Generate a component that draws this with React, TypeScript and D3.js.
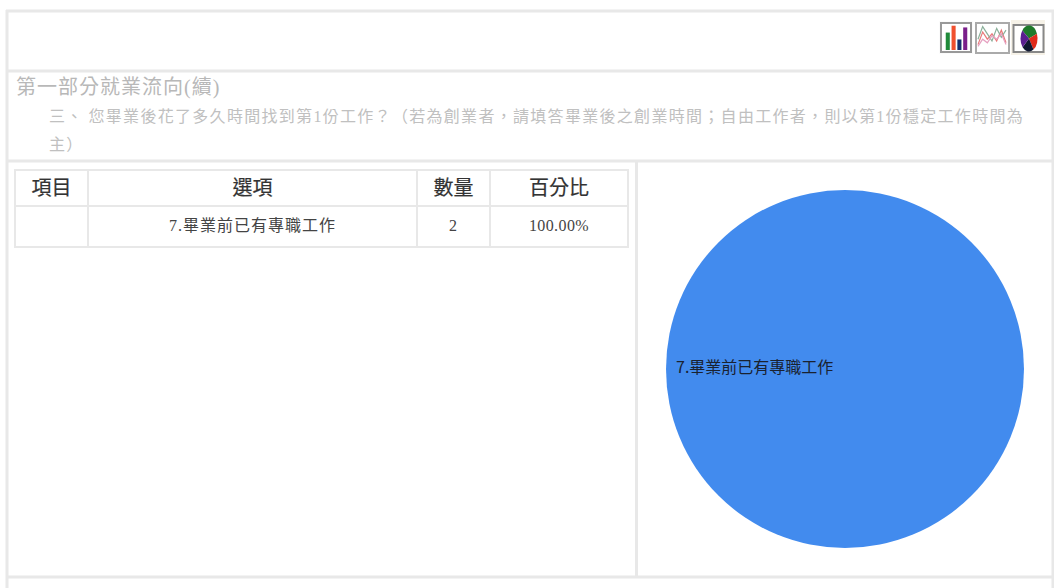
import React, { useEffect } from "react";
import * as d3 from "d3";

const sectionTitle = "第一部分就業流向(續)";
const questionLine1 = "三、 您畢業後花了多久時間找到第1份工作？（若為創業者，請填答畢業後之創業時間；自由工作者，則以第1份穩定工作時間為";
const questionLine2 = "主）";
const columns = ["項目", "選項", "數量", "百分比"];
const columnEdges = [15, 88, 417, 490, 628];
const rowValues = ["", "7.畢業前已有專職工作", "2", "100.00%"];
const pieLabels = ["7.畢業前已有專職工作"];
const pieValues = [2];
const iconBars = [9, 13, 5, 12];
const iconBarColors = ["#1f8a3a", "#f0502f", "#16306e", "#7a1f8a"];
const iconLineA = [3, 10, 6, 9, 5, 11, 4];
const iconLineB = [6, 13, 9, 5, 12, 7, 11];
const iconLineC = [2, 6, 4, 8, 6, 9, 3];
const iconPieValues = [3, 2, 2, 2];
const iconPieColors = ["#1f7a2a", "#e02a1a", "#101830", "#5a1f8f"];

const GRAY = "#e8e8e8";
const SERIF = "'Liberation Serif',serif";
const FONT = "'Liberation Serif','Noto Sans CJK TC',serif";
const CJK = "'Noto Sans CJK TC','Liberation Serif',sans-serif";

function Mixed({ text }: { text: string }) {
  return (
    <>
      {text.split(/(\d+)/).map((part, i) =>
        /^\d+$/.test(part) ? <tspan key={i} fontFamily={SERIF}>{part}</tspan> : <tspan key={i}>{part}</tspan>
      )}
    </>
  );
}

export default function App() {
  useEffect(() => {
    document.body.style.margin = "0";
    document.body.style.background = "#fff";
  }, []);
  const pie = d3.pie<number>().sort(null)(pieValues);
  const arc = d3.arc<d3.PieArcDatum<number>>().innerRadius(0).outerRadius(179);
  const iconPie = d3.pie<number>().sort(null).startAngle(-0.9).endAngle(-0.9 + 2 * Math.PI)(iconPieValues);
  const iconArc = d3.arc<d3.PieArcDatum<number>>().innerRadius(0).outerRadius(9);
  const ix = d3.scaleLinear().domain([0, 6]).range([3, 31]);
  const iy = d3.scaleLinear().domain([0, 15]).range([29, 2]);
  const line = d3.line<number>().x((_, i) => ix(i)).y((d) => iy(d));
  const bx = d3.scaleBand<number>().domain(iconBars.map((_, i) => i)).range([4, 29]).padding(0.3);
  const by = d3.scaleLinear().domain([0, 14]).range([27, 3]);
  const hLines = [11, 71, 161, 577];
  return (
    <svg width={1054} height={588} style={{ display: "block" }} lang="zh-TW">
      <rect width={1054} height={588} fill="#fff" />
      {hLines.map((y) => (
        <line key={y} x1={6} x2={1054} y1={y} y2={y} stroke={GRAY} strokeWidth={3} />
      ))}
      <line x1={7} x2={7} y1={10} y2={588} stroke={GRAY} strokeWidth={3} />
      <line x1={1053} x2={1053} y1={10} y2={588} stroke={GRAY} strokeWidth={3} />
      <line x1={636.5} x2={636.5} y1={161} y2={577} stroke={GRAY} strokeWidth={3} />

      <g transform="translate(939,21)">
        <rect x={0} y={0} width={34} height={33} fill="#fbfbfb" />
        <rect x={2} y={2} width={30} height={29} fill="#fff" stroke="#999" strokeWidth={2} />
        {iconBars.map((v, i) => (
          <rect key={i} x={bx(i) + 1} y={by(v)} width={bx.bandwidth()} height={29 - by(v)} fill={iconBarColors[i]} />
        ))}
      </g>
      <g transform="translate(975,21)">
        <rect x={1} y={2} width={33} height={30} fill="#fff" stroke="#aaa" strokeWidth={2} />
        <path d={line(iconLineA) ?? ""} fill="none" stroke="#e87a7a" strokeWidth={1.2} />
        <path d={line(iconLineB) ?? ""} fill="none" stroke="#8bb09a" strokeWidth={1.2} />
        <path d={line(iconLineC) ?? ""} fill="none" stroke="#e6a0c0" strokeWidth={1.2} />
      </g>
      <g transform="translate(1011,20)">
        <rect x={0} y={0} width={34} height={35} fill="#f6f2e8" />
        <rect x={2.5} y={5} width={30} height={27} fill="#fff" stroke="#888" strokeWidth={2} />
        <g transform="translate(18,18.5) scale(0.95,1.45)">
          {iconPie.map((d, i) => (
            <path key={i} d={iconArc(d) ?? ""} fill={iconPieColors[i]} />
          ))}
        </g>
      </g>

      <text x={16} y={94} fontSize={20} letterSpacing={1} fill="#b8b8b8" fontFamily={FONT}>{sectionTitle}</text>
      <text x={49} y={122} fontSize={16} letterSpacing={1.3} fill="#c0c0c0" fontFamily={CJK}><Mixed text={questionLine1} /></text>
      <text x={49} y={150} fontSize={16} letterSpacing={1.3} fill="#c0c0c0" fontFamily={CJK}><Mixed text={questionLine2} /></text>

      <rect x={15} y={170} width={613} height={77} fill="none" stroke={GRAY} strokeWidth={2} />
      <line x1={15} x2={628} y1={206} y2={206} stroke={GRAY} strokeWidth={2} />
      {columnEdges.slice(1, -1).map((x) => (
        <line key={x} x1={x} x2={x} y1={170} y2={247} stroke={GRAY} strokeWidth={2} />
      ))}
      {columns.map((c, i) => (
        <text key={c} x={(columnEdges[i] + columnEdges[i + 1]) / 2} y={195} textAnchor="middle" fontSize={20} fill="#333" stroke="#333" strokeWidth={0.2} fontFamily={CJK}>{c}</text>
      ))}
      {rowValues.map((c, i) => (
        <text key={i} x={(columnEdges[i] + columnEdges[i + 1]) / 2} y={231} textAnchor="middle" fontSize={16} letterSpacing={i === 3 ? 0.4 : 1} fill="#444" fontFamily={FONT}>{c}</text>
      ))}

      <g transform="translate(845,369)">
        {pie.map((d, i) => (
          <path key={i} d={arc(d) ?? ""} fill="#428bee" />
        ))}
        <text x={-169} y={4} fontSize={16} fill="#1a2230" fontFamily={CJK}>{pieLabels[0]}</text>
      </g>
    </svg>
  );
}
